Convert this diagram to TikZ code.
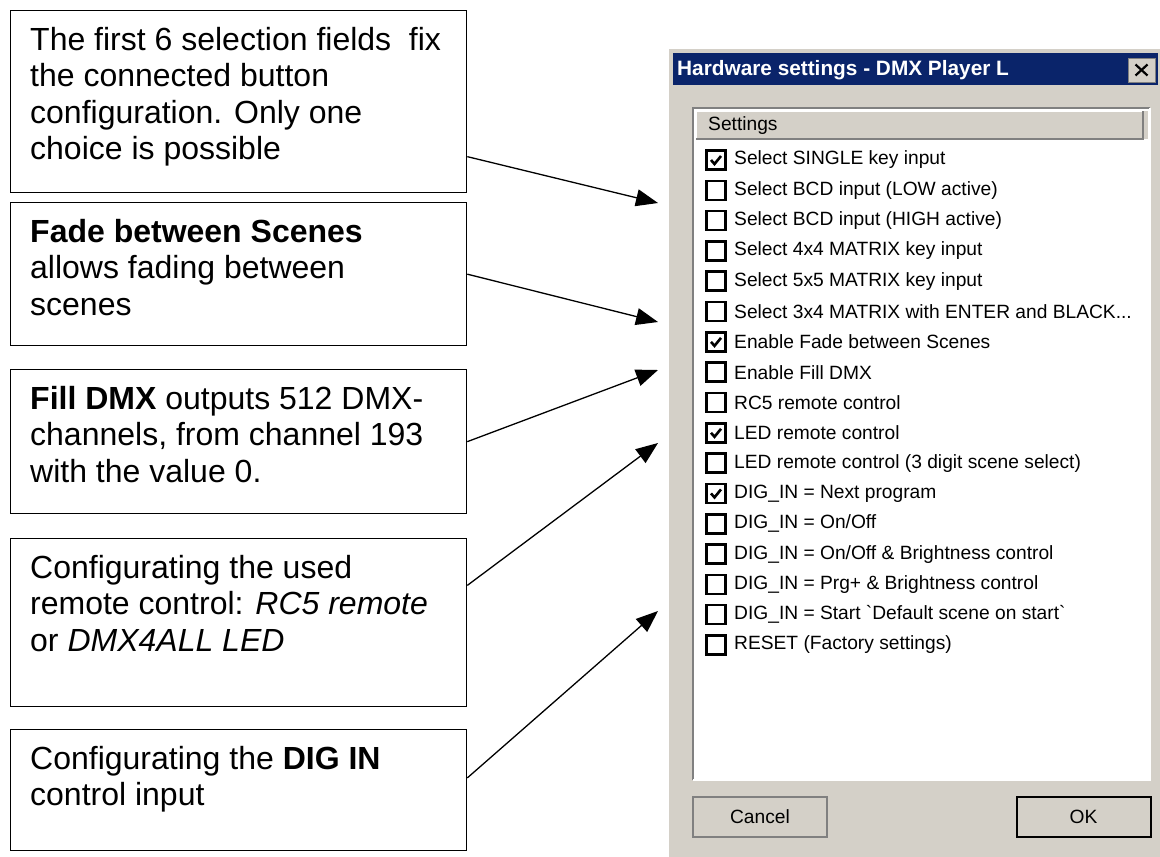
\documentclass[tikz,border=0pt]{standalone}
\usepackage{fontspec}
\setmainfont{Liberation Sans}
\usetikzlibrary{arrows.meta,calc}

\definecolor{winface}{HTML}{D4D0C8}
\definecolor{wintitle}{HTML}{0A246A}
\definecolor{winshadow}{HTML}{808080}

\tikzset{
  notebox/.style={draw, line width=1.3pt, anchor=north west, minimum width=456, inner sep=0},
  notetext/.style={anchor=north west, inner sep=0, align=left,
    font=\fontsize{32}{36.5}\selectfont},
  pointer/.style={line width=1.3pt, -{Triangle[length=22pt,width=17pt]}},
  wintext/.style={anchor=west, inner sep=0, font=\fontsize{19.2}{22}\selectfont},
  checkbox/.style={draw, line width=2.6pt, fill=white, minimum size=19, inner sep=0},
  winbutton/.style={fill=winface, draw=winshadow, line width=1.5pt, minimum width=134, minimum height=40,
    inner sep=0, font=\fontsize{19.2}{22}\selectfont}
}

\begin{document}
\begin{tikzpicture}[x=1pt,y=-1pt]
\useasboundingbox (0,0) rectangle (1160,857);

% notes on the left
\node[notebox, minimum height=182] (n1) at (10,10) {};
\node[notetext] (n1t) at ($(n1.north west)+(20,17)$) {The first 6 selection fields \ fix\\the connected button\\configuration. Only one\\choice is possible};
\node[notebox, minimum height=143] (n2) at (10,202) {};
\node[notetext] (n2t) at ($(n2.north west)+(20,17)$) {\textbf{Fade between Scenes}\\allows fading between\\scenes};
\node[notebox, minimum height=144] (n3) at (10,369) {};
\node[notetext] (n3t) at ($(n3.north west)+(20,17)$) {\textbf{Fill DMX} outputs 512 DMX-\\channels, from channel 193\\with the value 0.};
\node[notebox, minimum height=168] (n4) at (10,538) {};
\node[notetext] (n4t) at ($(n4.north west)+(20,17)$) {Configurating the used\\remote control: \textit{RC5 remote}\\or \textit{DMX4ALL LED}};
\node[notebox, minimum height=121] (n5) at (10,729) {};
\node[notetext] (n5t) at ($(n5.north west)+(20,17)$) {Configurating the \textbf{DIG IN}\\control input};

% dialog window
\fill[winface] (668,48) rectangle (1160,857);
\draw[white, line width=1.5pt] (668,857) -- (668,48) -- (1160,48);
\fill[wintitle] (673,53) rectangle (1158,85);
\node[anchor=west, inner sep=0, text=white, font=\bfseries\fontsize{20.8}{22}\selectfont] (title) at (677,70) {Hardware settings - DMX Player L};
\node[fill=winface, draw=winshadow, line width=1pt, minimum width=27, minimum height=24, inner sep=0] (close) at (1141.5,70) {};
\draw[line width=2.2pt] ($(close.center)+(-6,-5.5)$) -- ($(close.center)+(6,5.5)$)
  ($(close.center)+(-6,5.5)$) -- ($(close.center)+(6,-5.5)$);

% list
\fill[white] (693,108) rectangle (1150,780);
\draw[winshadow, line width=2pt] (693,780) -- (693,108) -- (1150,108);
\draw[white, line width=1.5pt] (693,780) -- (1150,780) -- (1150,108);
\fill[winface] (696,111) rectangle (1148,139);
\draw[white, line width=1.2pt] (696,139) -- (696,111) -- (1143,111);
\draw[winshadow, line width=2pt] (696,139) -- (1143,139) -- (1143,111);
\node[wintext] (head) at (708,126) {Settings};

\foreach \txt/\tick [count=\i] in {
  {Select SINGLE key input}/1,
  {Select BCD input (LOW active)}/0,
  {Select BCD input (HIGH active)}/0,
  {Select 4x4 MATRIX key input}/0,
  {Select 5x5 MATRIX key input}/0,
  {Select 3x4 MATRIX with ENTER and BLACK{.}{.}{.}}/0,
  {Enable Fade between Scenes}/1,
  {Enable Fill DMX}/0,
  {RC5 remote control}/0,
  {LED remote control}/1,
  {LED remote control (3 digit scene select)}/0,
  {DIG\_IN = Next program}/1,
  {DIG\_IN = On/Off}/0,
  {DIG\_IN = On/Off \& Brightness control}/0,
  {DIG\_IN = Prg+ \& Brightness control}/0,
  {DIG\_IN = Start \textasciigrave Default scene on start\textasciigrave}/0,
  {RESET (Factory settings)}/0}
{
  \pgfmathsetmacro\ry{160+(\i-1)*30.31}
  \node[checkbox] (cb\i) at (716,\ry) {};
  \node[wintext] (row\i) at (734,\ry) {\txt};
  \ifnum\tick=1
    \draw[line width=2.6pt] ($(cb\i.center)+(-5,0)$) -- ($(cb\i.center)+(-1.5,4)$) -- ($(cb\i.center)+(5,-4)$);
  \fi
}

% buttons
\node[winbutton] (cancel) at (760,817) {Cancel};
\node[winbutton, draw=black, line width=2pt] (ok) at (1083.5,817) {OK};

% arrows
\coordinate (t1) at (658,203);
\coordinate (t2) at (658,322);
\coordinate (t3) at (658,370);
\coordinate (t4) at (658,443);
\coordinate (t5) at (658,611);
\draw[pointer] ($(n1.north east)!0.8!(n1.south east)$) -- (t1);
\draw[pointer] (n2.east) -- (t2);
\draw[pointer] (n3.east) -- (t3);
\draw[pointer] ($(n4.north east)!0.28!(n4.south east)$) -- (t4);
\draw[pointer] ($(n5.north east)!0.4!(n5.south east)$) -- (t5);
\end{tikzpicture}
\end{document}
